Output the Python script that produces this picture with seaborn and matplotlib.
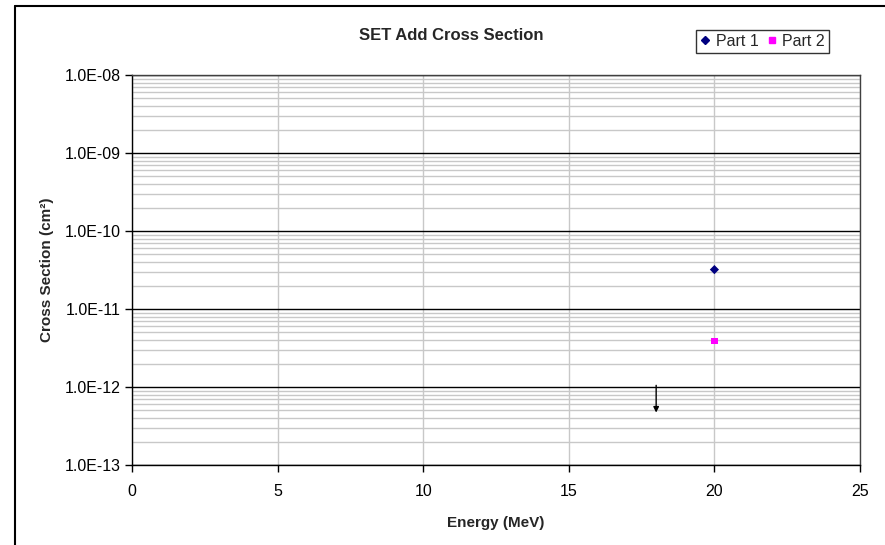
import matplotlib
matplotlib.use("Agg")
import matplotlib.pyplot as plt
import matplotlib.ticker as mticker
from matplotlib.lines import Line2D
import numpy as np
import pandas as pd
import seaborn as sns

# Measured SET cross sections
parts = ["Part 1", "Part 2"]
energy_mev = [20, 20]
cross_section = [3.2e-11, 3.9e-12]
part_colors = ["#000080", "#FF00FF"]
part_markers = ["D", "s"]

# Upper-limit point (no events seen)
limit_energy = 18
limit_value = 1.05e-12
limit_arrow_end = 4.7e-13

x_ticks = [0, 5, 10, 15, 20, 25]
y_decades = [1e-13, 1e-12, 1e-11, 1e-10, 1e-9, 1e-8]

sns.set_theme(style="white")
plt.rcParams["font.family"] = ["Liberation Sans", "DejaVu Sans"]

df = pd.DataFrame({"Energy": energy_mev, "Sigma": cross_section, "Part": parts})

fig = plt.figure(figsize=(8.85, 5.45), dpi=100)
ax = fig.add_axes([132 / 885, 80 / 545, (860 - 132) / 885, (465 - 75) / 545])

sns.scatterplot(data=df, x="Energy", y="Sigma", hue="Part", style="Part",
                palette=dict(zip(parts, part_colors)),
                markers=dict(zip(parts, part_markers)),
                s=22, edgecolor="none", legend=False, ax=ax, zorder=5)

ax.annotate("", xy=(limit_energy, limit_arrow_end),
            xytext=(limit_energy, limit_value),
            arrowprops=dict(arrowstyle="-|>", color="black", lw=1.0,
                            mutation_scale=8, shrinkA=0, shrinkB=0),
            zorder=6)

ax.set_yscale("log")
ax.set_xlim(0, 25)
ax.set_ylim(1e-13, 1e-8)
ax.set_xticks(x_ticks)
ax.set_yticks(y_decades)
ax.yaxis.set_minor_locator(mticker.LogLocator(base=10, subs=np.arange(2, 10), numticks=50))
ax.yaxis.set_minor_formatter(mticker.NullFormatter())
ax.yaxis.set_major_formatter(mticker.FuncFormatter(
    lambda v, p: "{:.1E}".format(v).replace("E+", "E")))

ax.grid(False)
ax.set_axisbelow(True)
ax.yaxis.grid(True, which="major", color="black", lw=1.0)
ax.yaxis.grid(True, which="minor", color="#c8c8c8", lw=1.0)
ax.xaxis.grid(True, which="major", color="#c8c8c8", lw=1.0)

for sp in ["left", "bottom", "right", "top"]:
    ax.spines[sp].set_color("black")
    ax.spines[sp].set_linewidth(1.0)
ax.spines["right"].set_color("#404040")
ax.spines["top"].set_color("#404040")

ax.tick_params(axis="both", which="major", direction="out", length=5, width=1,
               color="black", labelsize=11.5, labelcolor="black",
               left=True, bottom=True)
ax.tick_params(axis="x", which="major", pad=9)
ax.tick_params(axis="y", which="major", pad=3)
ax.tick_params(axis="y", which="minor", left=False)

ax.set_xlabel("Energy (MeV)", fontsize=11, fontweight="bold", labelpad=12)
ax.set_ylabel("Cross Section (cm²)", fontsize=11, fontweight="bold", labelpad=8)
fig.text(451 / 885, 1 - 35 / 545, "SET Add Cross Section", fontsize=12,
         fontweight="bold", ha="center", va="center")

handles = [Line2D([], [], marker=m, color=c, linestyle="none", markersize=4 if m == "D" else 4.5)
           for m, c in zip(part_markers, part_colors)]
leg = fig.legend(handles, parts, loc="upper right", ncol=2,
                 bbox_to_anchor=(829 / 885, 1 - 30 / 545), frameon=True,
                 fontsize=11.5, handlelength=0.7, handletextpad=0.3,
                 columnspacing=0.5, borderpad=0.25, borderaxespad=0)
leg.get_frame().set_edgecolor("black")
leg.get_frame().set_linewidth(1.0)
leg.get_frame().set_boxstyle("square", pad=0)

# Outer chart border (left and top edges)
fig.add_artist(Line2D([15 / 885, 15 / 885], [0, 1 - 6 / 545], color="black", lw=1.5,
                      transform=fig.transFigure))
fig.add_artist(Line2D([15 / 885, 1], [1 - 6 / 545, 1 - 6 / 545], color="black", lw=1.5,
                      transform=fig.transFigure))

fig.savefig("out.png", dpi=100)
